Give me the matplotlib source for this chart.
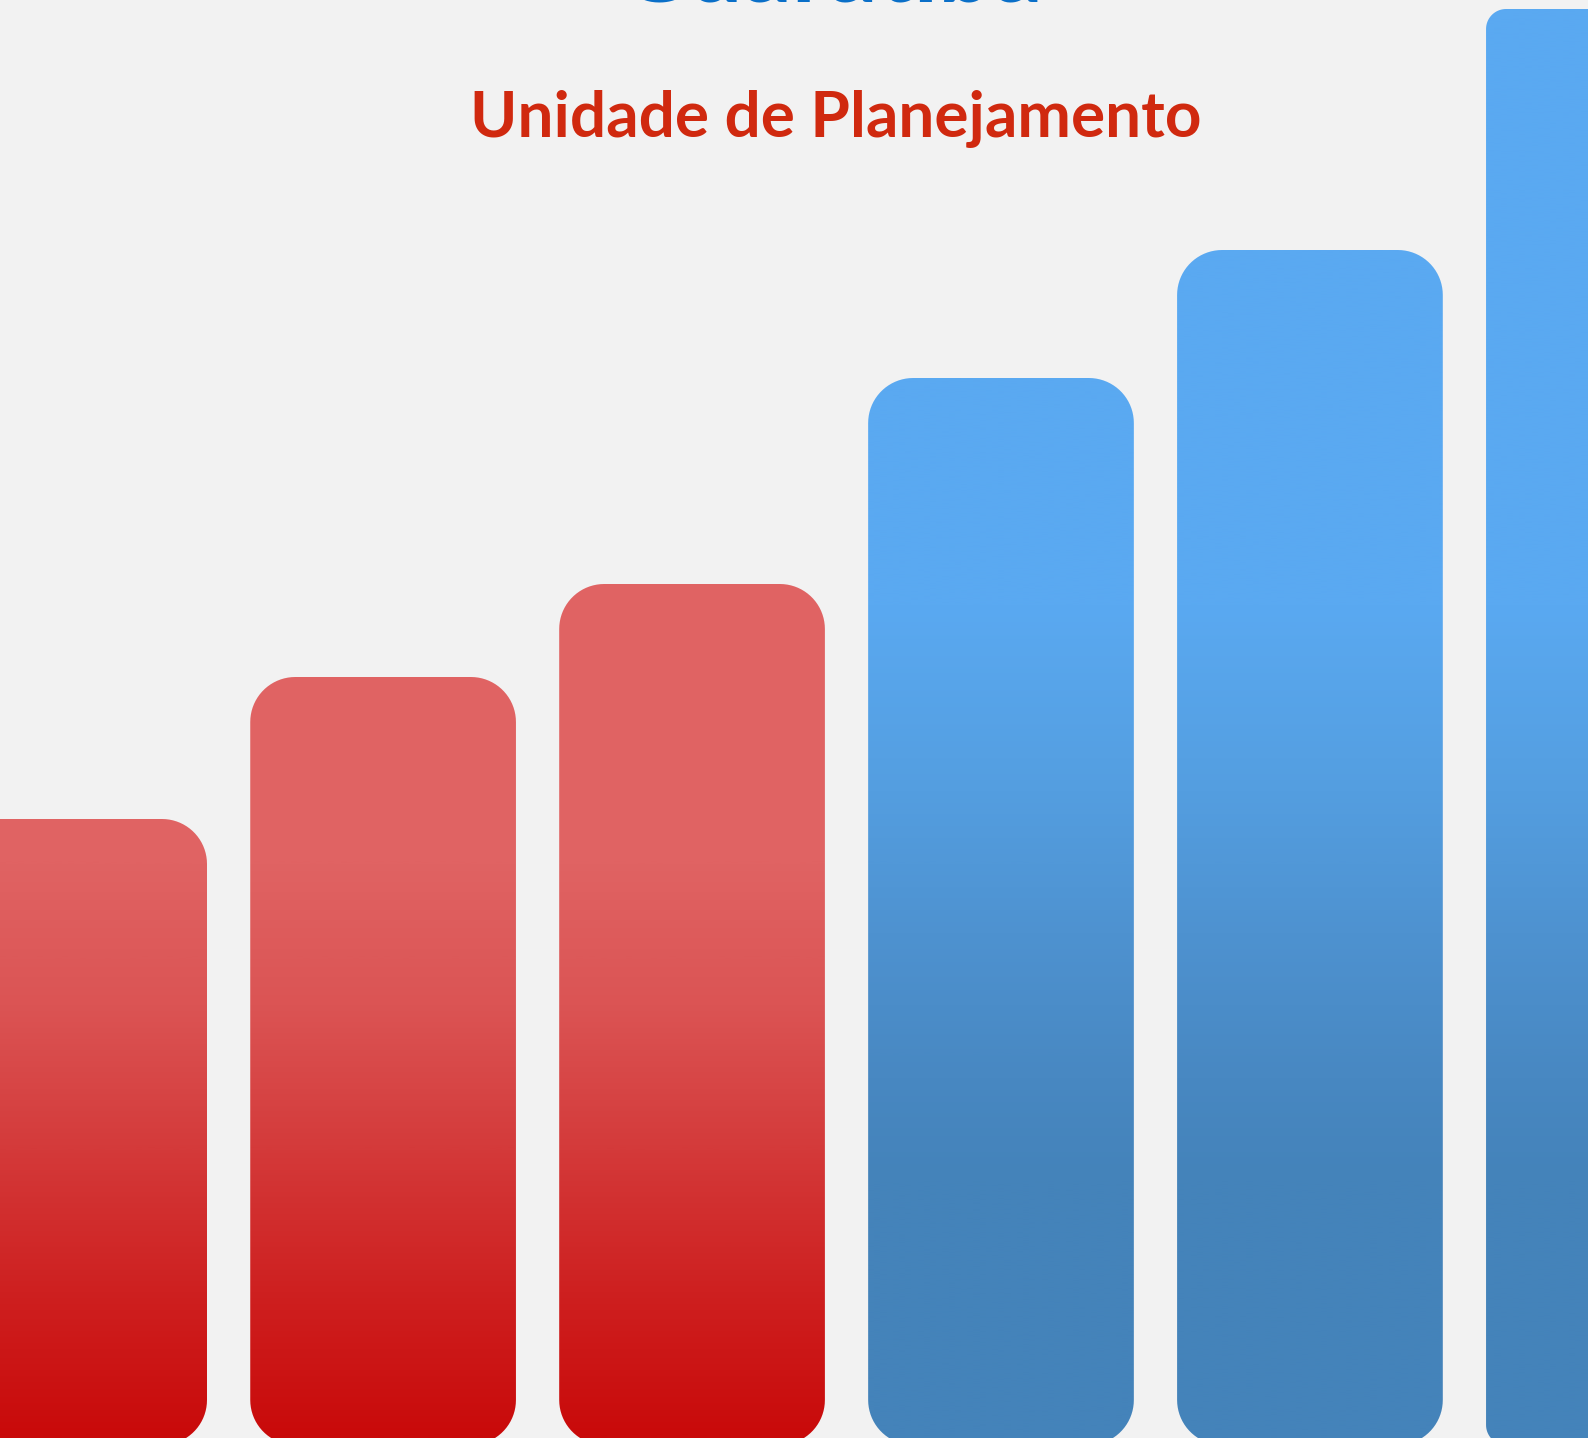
import matplotlib
matplotlib.use("Agg")
import matplotlib.pyplot as plt
import numpy as np
from matplotlib.patches import Polygon
from matplotlib.colors import LinearSegmentedColormap

# data (bars run past the bottom edge, values are approximate)
categories = ["UP 1", "UP 2", "UP 3", "UP 4", "UP 5", "UP 6"]
values = [62.6, 76.8, 86.1, 106.7, 119.5, 143.6]
groups = ["red", "red", "red", "blue", "blue", "blue"]

title = "Guaratiba"
subtitle = "Unidade de Planejamento"

# styles
bg = "#f2f2f2"
corner_px = [45, 45, 45, 45, 45, 20]
bar_width = 0.86
cmaps = {
    "red": LinearSegmentedColormap.from_list("red", [
        (0.0, "#e16565"), (0.60, "#e06363"), (0.70, "#db5454"),
        (0.80, "#d43a3a"), (0.90, "#ce2020"), (1.0, "#c90a0a")]),
    "blue": LinearSegmentedColormap.from_list("blue", [
        (0.0, "#5aa9f1"), (0.42, "#5aa9f1"), (0.55, "#549ee0"),
        (0.65, "#4e92d0"), (0.75, "#4888c2"), (0.82, "#4483ba"), (1.0, "#4483ba")]),
}

W, H = 1588, 1438
fig = plt.figure(figsize=(W / 100, H / 100), dpi=100, facecolor=bg)
ax = fig.add_axes([0, 0, 1, 1])
ax.set_facecolor(bg)
xlim = (-0.24, 4.90)
ylim = (0.7, 144.5)

# pixels per data unit, so the corners come out as circles
px_x = W / (xlim[1] - xlim[0])
px_y = H / (ylim[1] - ylim[0])


def rounded_bar(x0, w, h, r):
    rx, ry = r / px_x, r / px_y
    t = np.linspace(0, np.pi / 2, 20)
    pts = []
    # bottom-left, bottom-right, top-right, top-left corners
    for cx, cy, a0 in [(x0 + rx, ry, np.pi), (x0 + w - rx, ry, 1.5 * np.pi),
                       (x0 + w - rx, h - ry, 0), (x0 + rx, h - ry, 0.5 * np.pi)]:
        pts += list(zip(cx + rx * np.cos(a0 + t), cy + ry * np.sin(a0 + t)))
    return Polygon(pts, closed=True, facecolor="none", edgecolor="none")


grad = np.linspace(0, 1, 512).reshape(-1, 1)

for i, (v, g) in enumerate(zip(values, groups)):
    patch = rounded_bar(i - bar_width / 2, bar_width, v, corner_px[i])
    ax.add_patch(patch)
    im = ax.imshow(grad, extent=(xlim[0], xlim[1], ylim[0], ylim[1]),
                   aspect="auto", cmap=cmaps[g], origin="upper",
                   interpolation="bilinear", zorder=2)
    im.set_clip_path(patch)

ax.set_xlim(xlim)
ax.set_ylim(ylim)
ax.axis("off")

# the title sits almost fully above the top edge, only its bottom shows
fig.text(0.523, 1 - 1 / H, title, ha="center", va="baseline",
         fontsize=70, fontweight="bold", family=["Lato", "DejaVu Sans"],
         color="#0a6fc8")
fig.text(0.526, 1 - 137 / H, subtitle, ha="center", va="baseline",
         fontsize=46, fontweight="bold", family=["Lato", "DejaVu Sans"],
         color="#d0290f")

fig.savefig("out.png", dpi=100, facecolor=bg)
